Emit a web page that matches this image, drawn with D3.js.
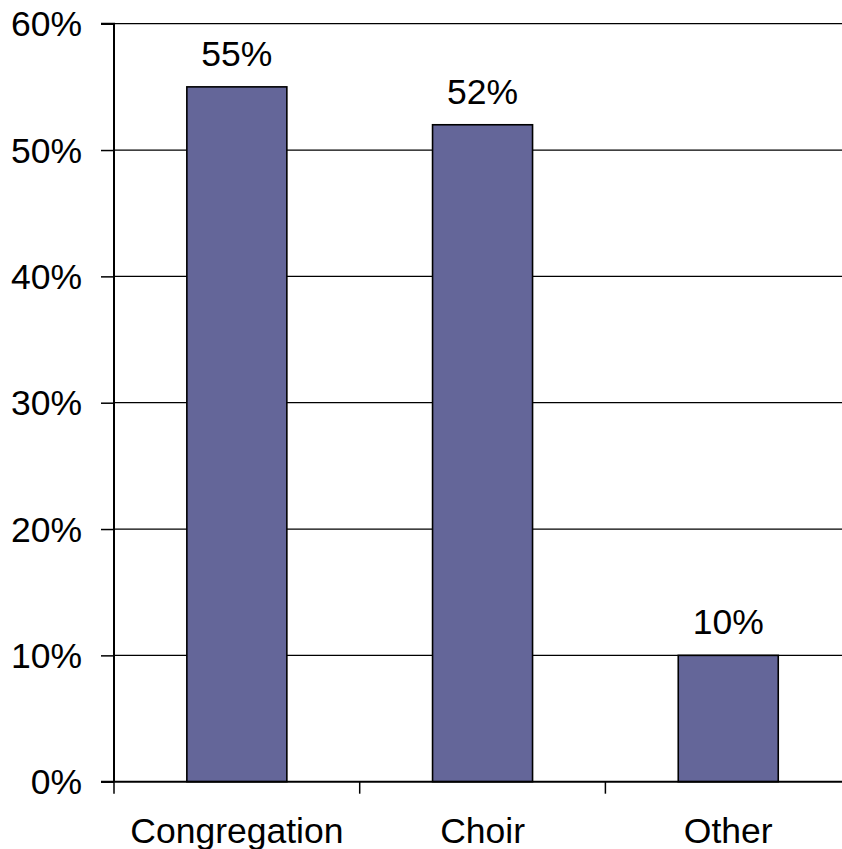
<!DOCTYPE html>
<html>
<head>
<meta charset="utf-8">
<script src="https://cdn.jsdelivr.net/npm/d3@7"></script>
<style>
  html, body { margin: 0; padding: 0; background: #fff; overflow: hidden; }
  svg { display: block; }
  text { font-family: "Liberation Sans", Arial, sans-serif; fill: #000; }
</style>
</head>
<body>
<script>
const categories = ["Congregation", "Choir", "Other"];
const values = [55, 52, 10];
const yTicks = [0, 10, 20, 30, 40, 50, 60];
const yTickLabels = ["0%", "10%", "20%", "30%", "40%", "50%", "60%"];

const W = 842, H = 849;
const plotLeft = 114, plotTop = 23.7, plotBottom = 781.7;
const bandW = 245.7;
const plotRight = plotLeft + bandW * categories.length;
const FS = 35.5;

const svg = d3.select("body").append("svg").attr("width", W).attr("height", H);

const x = d3.scaleBand().domain(categories).range([plotLeft, plotRight]).paddingInner(0.593).paddingOuter(0.2965);
const y = d3.scaleLinear().domain([0, 60]).range([plotBottom, plotTop]);

// gridlines
svg.append("g").selectAll("line").data(yTicks.filter(d => d > 0)).join("line")
  .attr("x1", plotLeft).attr("x2", W).attr("y1", d => y(d)).attr("y2", d => y(d))
  .attr("stroke", "#000").attr("stroke-width", 1.3);

// bars
svg.append("g").selectAll("rect").data(values).join("rect")
  .attr("x", (d, i) => x(categories[i]))
  .attr("width", x.bandwidth())
  .attr("y", d => y(d))
  .attr("height", d => y(0) - y(d))
  .attr("fill", "#646699")
  .attr("stroke", "#000").attr("stroke-width", 1.6);

// y axis
const yAxis = d3.axisLeft(y).tickValues(yTicks).tickSize(13).tickPadding(19)
  .tickFormat((d, i) => yTickLabels[i]);
const gy = svg.append("g").attr("transform", `translate(${plotLeft},0)`).call(yAxis);
gy.select(".domain").attr("stroke", "#000").attr("stroke-width", 2).attr("d", `M-13,${plotTop}H0V${plotBottom}`);
gy.selectAll(".tick line").attr("stroke", "#000").attr("stroke-width", 1.5);
gy.selectAll(".tick text").attr("font-size", FS).attr("font-family", "Liberation Sans, Arial, sans-serif").attr("fill", "#000").attr("dy", "0.34em");

// x axis
const xTickPos = d3.range(categories.length + 1).map(i => plotLeft + i * bandW);
svg.append("line").attr("x1", plotLeft - 13).attr("x2", W).attr("y1", plotBottom).attr("y2", plotBottom)
  .attr("stroke", "#000").attr("stroke-width", 2);
svg.append("g").selectAll("line").data(xTickPos).join("line")
  .attr("x1", d => d).attr("x2", d => d).attr("y1", plotBottom).attr("y2", plotBottom + 12)
  .attr("stroke", "#000").attr("stroke-width", 1.5);
svg.append("g").selectAll("text").data(categories).join("text")
  .attr("x", d => x(d) + x.bandwidth() / 2)
  .attr("y", plotBottom + 61)
  .attr("text-anchor", "middle").attr("font-size", FS)
  .text(d => d);

// value labels
svg.append("g").selectAll("text").data(values).join("text")
  .attr("x", (d, i) => x(categories[i]) + x.bandwidth() / 2)
  .attr("y", d => y(d) - 21)
  .attr("text-anchor", "middle").attr("font-size", FS)
  .text(d => d + "%");
</script>
</body>
</html>
